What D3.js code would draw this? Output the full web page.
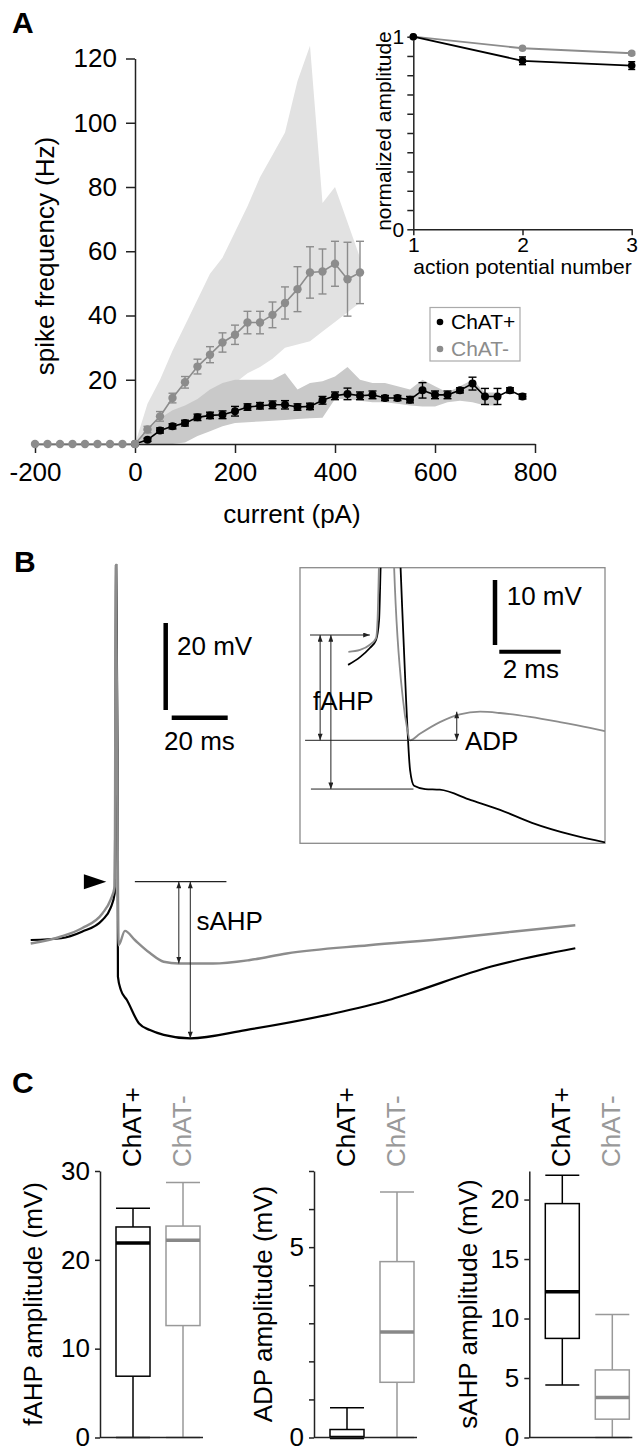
<!DOCTYPE html>
<html><head><meta charset="utf-8">
<script src="https://cdn.jsdelivr.net/npm/d3@7"></script>
<style>
body{margin:0;background:#fff;}
svg{display:block;font-family:"Liberation Sans",Arial,sans-serif;}
</style></head><body>
<svg id="fig" width="642" height="1452"></svg>
<script>
// ---------------- DATA ----------------
// Panel A: spike frequency vs injected current
const currentNeg = [-200,-175,-150,-125,-100,-75,-50,-25,0,25,50,75,100,125,150,175,200,225,250,275,300,325,350,375,400,425,450];
const freqNeg    = [0,0,0,0,0,0,0,0,0,4.5,8.6,14.3,19.2,24.1,27.8,31.6,34.0,37.8,37.8,40.2,43.9,48.2,53.4,53.7,56.1,51.3,53.4];
const semNeg     = [0,0,0,0,0,0,0,0,0,1,1.5,1.5,1.8,2.3,2.5,3,3,3.5,3.5,4,5,7,8,7,7,11.5,9.7];
const currentPos = [0,25,50,75,100,125,150,175,200,225,250,275,300,325,350,375,400,425,450,475,500,525,550,575,600,625,650,675,700,725,750,775];
const freqPos    = [0,1.3,4.2,5.5,6.5,8.3,8.9,9.1,10.2,11.5,11.9,12.2,12.2,11.5,11.7,13.6,15.0,15.6,15.0,15.3,14.3,14.3,13.8,16.7,15.3,15.3,16.7,18.8,14.8,14.8,16.7,14.8];
const semPos     = [0,0.5,0.8,0.8,0.9,1,1,1.2,1.5,1,1,1.2,1.3,1,1,1.2,1.2,1.8,1.2,1.2,0.8,0.8,1,2.4,1.2,1.2,0.8,2,2.5,2.5,0.8,0.8];
// ranges (shaded)
const rangeNegCurrent = [0,25,50,75,100,125,150,175,200,225,250,275,300,325,350,375,400,425,450];
const rangeNegLo      = [0,1.5,3,5.5,8,11,13.5,16,19,22,24,26.5,30,31,32,35,38,41,44];
const rangeNegHi      = [0,12.5,20,29,37,45,53,58,66,74,83,90,97,113,124,75,80,69,58];
const rangePosCurrent = [0,25,50,75,100,125,150,175,200,225,250,275,300,325,350,375,400,425,450,475,500,525,550,575,600,625,650,675,700,725];
const rangePosLo      = [0,0,0,0,0.5,2.5,4,5.5,6.5,6.8,7,7.2,7.5,7.8,8,8.2,14,14,13.5,13,13,12.5,12,11.7,11.7,13,13.5,13,12,12];
const rangePosHi      = [0,4,8,10.5,12,14,17,19,20,20,20,20,22,17,19,19.5,21,24,20,19,19,18,17,20,18,16,18,20,16,16];
const xTicksA = [-200,0,200,400,600,800];
const yTicksA = [20,40,60,80,100,120];

// Panel A inset: normalized amplitude
const apNumber  = [1,2,3];
const ampPos    = [1,0.875,0.85];
const ampPosErr = [0,0.02,0.02];
const ampNeg    = [1,0.94,0.914];
const ampNegErr = [0,0.006,0.008];
const ampTicks  = [0,0.1,0.2,0.3,0.4,0.5,0.6,0.7,0.8,0.9,1];
const ampLabels = [0,1];

// Panel B: voltage traces (time ms, membrane potential mV)
const tGrayMain  = [-30.4,-19.5,-12.1,-4.8,-1.9,-0.4,0,0.4,1.0,3.25,6.8,12.2,17.1,22.5,34.7,47.9,61.0,90.3,119.5,141.5,164.1];
const vGrayMain  = [-59.2,-57.6,-55.7,-52.3,-49.2,-46.1,27.8,-3.2,-59.6,-56.3,-58.4,-61.4,-63.4,-63.8,-63.8,-63.0,-61.5,-59.6,-58.0,-56.5,-55.0];
const tBlackMain = [-30.4,-19.5,-12.1,-4.8,-1.9,-0.4,0.15,0.6,0.75,1.8,3.96,8.3,12.2,17.1,26.6,46.4,75.6,97.5,104.9,134.1,164.1];
const vBlackMain = [-58.4,-58.0,-56.5,-53.8,-51.1,-47.7,27.8,-14.7,-66.8,-69.9,-72.2,-77.6,-79.1,-80.2,-81.0,-79.1,-75.6,-72.2,-70.7,-64.5,-60.3];
const threshold  = -45;
const sahpGray   = -63.8;
const sahpBlack  = -81.0;
// inset (expanded time)
const tGrayInset  = [-1.03,-0.65,-0.33,-0.13,-0.08,-0.03,0.2,0.46,0.75,0.88,0.98,1.3,1.95,2.6,3.26,3.91,4.89,5.86,6.84,7.33];
const vGrayInset  = [-47.6,-47.3,-46.5,-45.5,-42.7,-33.5,15,-34.6,-55,-59.3,-61.2,-60.2,-58.4,-57.2,-56.8,-57.0,-57.6,-58.4,-59.3,-59.8];
const tBlackInset = [-1.04,-0.65,-0.33,-0.13,-0.03,0.02,0.26,0.67,0.85,0.98,1.11,1.47,1.95,2.96,3.91,4.95,6.29,7.33];
const vBlackInset = [-49.6,-48.4,-47.0,-45.8,-42.7,-34.6,15,-34.6,-55,-65.8,-68.2,-68.7,-68.8,-70.4,-71.9,-73.9,-75.8,-76.9];
const fahpGray  = -61.2;
const fahpBlack = -68.7;
const adpPeak   = -56.8;

// Panel C: box plot statistics [ChAT+, ChAT-]
const boxGroups = ["ChAT+","ChAT-"];
const fahpLow=[0,0],     fahpQ1=[6.9,12.6], fahpMed=[21.9,22.2], fahpQ3=[23.7,23.8], fahpHigh=[25.8,28.7];
const adpLow=[0,0],      adpQ1=[0,1.45],    adpMed=[0,2.77],     adpQ3=[0.21,4.62],  adpHigh=[0.78,6.45];
const sahpLow=[4.42,0],  sahpQ1=[8.33,1.54],sahpMed=[12.25,3.36],sahpQ3=[19.66,5.68],sahpHigh=[22.04,10.34];
const fahpTicks=[0,10,20,30];
const adpTicks=[0,1,2,3,4,5,6,7], adpLabels=[0,5];
const sahpTicks=[0,5,10,15,20];

// ---------------- DRAW ----------------
const svg = d3.select("#fig");
const F = 26;
const GRAY = "#8c8c8c";
const AX = "#222";
const plain = d => String(d);

const defs = svg.append("defs");
defs.append("marker").attr("id","arr").attr("viewBox","0 0 8 6").attr("refX",8).attr("refY",3)
  .attr("markerWidth",7).attr("markerHeight",5).attr("markerUnits","userSpaceOnUse").attr("orient","auto-start-reverse")
  .append("path").attr("d","M0,0L8,3L0,6z").attr("fill","#222");

function styleAxis(g, fs){
  g.attr("font-family",null).attr("font-size",fs);
  g.selectAll(".domain,.tick line").attr("stroke",AX).attr("stroke-width",1.5);
  g.selectAll("text").attr("fill","#000");
}
function label(t,x,y,opts={}){
  const e = svg.append("text").attr("x",x).attr("y",y).text(t)
    .attr("font-size",opts.size||F).attr("fill",opts.fill||"#000")
    .attr("text-anchor",opts.anchor||"start");
  if(opts.bold) e.attr("font-weight","bold");
  if(opts.rot) e.attr("transform",`rotate(-90,${x},${y})`);
  return e;
}

// ===== Panel A =====
label("A",12,33,{bold:true,size:30});
const xA = d3.scaleLinear().domain([-200,800]).range([35,535]);
const yA = d3.scaleLinear().domain([0,120]).range([444,58.5]);

const area = (lo,hi,cur)=>d3.area().x((d,i)=>xA(cur[i])).y0((d,i)=>yA(lo[i])).y1((d,i)=>yA(hi[i]));
svg.append("path").datum(rangeNegCurrent).attr("d",area(rangeNegLo,rangeNegHi,rangeNegCurrent)).attr("fill","#e2e2e2");
svg.append("path").datum(rangePosCurrent).attr("d",area(rangePosLo,rangePosHi,rangePosCurrent)).attr("fill","#c9c9c9");

const gx = svg.append("g").attr("transform",`translate(0,${yA(0)})`)
  .call(d3.axisBottom(xA).tickValues(xTicksA).tickSize(9).tickSizeOuter(0).tickPadding(10).tickFormat(plain));
styleAxis(gx,F);
const gy = svg.append("g").attr("transform",`translate(${xA(0)},0)`)
  .call(d3.axisLeft(yA).tickValues(yTicksA).tickSize(9).tickSizeOuter(0).tickPadding(9).tickFormat(plain));
styleAxis(gy,F);
label("current (pA)",292,523,{anchor:"middle"});
label("spike frequency (Hz)",54,256,{anchor:"middle",rot:true});

function series(cur,val,err,color,r){
  const g = svg.append("g");
  g.append("path").datum(cur).attr("fill","none").attr("stroke",color).attr("stroke-width",1.6)
    .attr("d",d3.line().x((d,i)=>xA(cur[i])).y((d,i)=>yA(val[i])));
  cur.forEach((c,i)=>{
    if(err[i]>0){
      const x=xA(c), y1=yA(val[i]-err[i]), y2=yA(val[i]+err[i]);
      g.append("line").attr("x1",x).attr("x2",x).attr("y1",y1).attr("y2",y2).attr("stroke",color).attr("stroke-width",1.4);
      [y1,y2].forEach(y=>g.append("line").attr("x1",x-4).attr("x2",x+4).attr("y1",y).attr("y2",y).attr("stroke",color).attr("stroke-width",1.4));
    }
  });
  g.selectAll("circle").data(cur).join("circle").attr("cx",d=>xA(d)).attr("cy",(d,i)=>yA(val[i])).attr("r",r).attr("fill",color);
}
series(currentPos,freqPos,semPos,"#000",4);
series(currentNeg,freqNeg,semNeg,GRAY,4.2);

// legend
svg.append("rect").attr("x",430).attr("y",307.5).attr("width",90).attr("height",53.5).attr("fill","none").attr("stroke","#aaa").attr("stroke-width",1.2);
svg.append("circle").attr("cx",440).attr("cy",322).attr("r",3.3).attr("fill","#000");
svg.append("circle").attr("cx",440).attr("cy",349).attr("r",3.3).attr("fill",GRAY);
label(boxGroups[0],451,329,{size:21});
label(boxGroups[1],451,355.5,{size:21,fill:GRAY});

// inset
const xI = d3.scaleLinear().domain([1,3]).range([413.3,631.7]);
const yI = d3.scaleLinear().domain([0,1]).range([229.3,36.7]);
const gix = svg.append("g").attr("transform",`translate(0,${yI(0)})`)
  .call(d3.axisBottom(xI).tickValues(apNumber).tickSize(6).tickSizeOuter(0).tickPadding(2).tickFormat(plain));
styleAxis(gix,21);
const giy = svg.append("g").attr("transform",`translate(${xI(1)},0)`)
  .call(d3.axisLeft(yI).tickValues(ampTicks).tickSize(6).tickSizeOuter(0).tickPadding(3)
    .tickFormat(d=>ampLabels.some(v=>Math.abs(v-d)<1e-9)?String(Math.round(d)):""));
styleAxis(giy,21);
label("action potential number",522.5,274,{anchor:"middle",size:21});
label("normalized amplitude",390.5,131,{anchor:"middle",size:21,rot:true});
function iseries(val,err,color){
  const g=svg.append("g");
  g.append("path").datum(apNumber).attr("fill","none").attr("stroke",color).attr("stroke-width",1.8)
    .attr("d",d3.line().x(d=>xI(d)).y((d,i)=>yI(val[i])));
  apNumber.forEach((a,i)=>{
    if(err[i]>0){
      const x=xI(a), y1=yI(val[i]-err[i]), y2=yI(val[i]+err[i]);
      g.append("line").attr("x1",x).attr("x2",x).attr("y1",y1).attr("y2",y2).attr("stroke",color).attr("stroke-width",1.5);
      [y1,y2].forEach(y=>g.append("line").attr("x1",x-3.5).attr("x2",x+3.5).attr("y1",y).attr("y2",y).attr("stroke",color).attr("stroke-width",1.5));
    }
  });
  g.selectAll("circle").data(apNumber).join("circle").attr("cx",d=>xI(d)).attr("cy",(d,i)=>yI(val[i])).attr("r",3.8).attr("fill",color);
}
iseries(ampNeg,ampNegErr,GRAY);
iseries(ampPos,ampPosErr,"#000");

// ===== Panel B =====
label("B",14,572,{bold:true,size:30});
const xB = d3.scaleLinear().domain([-30.4,164.1]).range([30.7,575.3]);
const yB = d3.scaleLinear().domain([-45,27.8]).range([881.7,565]);
const lineB = d3.line().x(d=>xB(d[0])).y(d=>yB(d[1])).curve(d3.curveMonotoneX);
svg.append("path").datum(d3.zip(tBlackMain,vBlackMain)).attr("d",lineB).attr("fill","none").attr("stroke","#000").attr("stroke-width",2.2);
svg.append("path").datum(d3.zip(tGrayMain,vGrayMain)).attr("d",lineB).attr("fill","none").attr("stroke",GRAY).attr("stroke-width",2.4);

// threshold arrowhead
const ty = yB(threshold);
svg.append("path").attr("d",`M${xB(-11.4)},${ty-7.5}L${xB(-3.4)},${ty}L${xB(-11.4)},${ty+7.5}Z`).attr("fill","#000");
// sAHP annotation
svg.append("line").attr("x1",xB(6.8)).attr("x2",xB(39.5)).attr("y1",ty).attr("y2",ty).attr("stroke","#222").attr("stroke-width",1.2);
[[22.5,sahpGray],[26.6,sahpBlack]].forEach(([t,v])=>{
  svg.append("line").attr("x1",xB(t)).attr("x2",xB(t)).attr("y1",ty).attr("y2",yB(v))
    .attr("stroke","#222").attr("stroke-width",1).attr("marker-start","url(#arr)").attr("marker-end","url(#arr)");
});
label("sAHP",196.5,930);

// scale bars main
const sbx = 165.7, sby = 710;
svg.append("line").attr("x1",sbx).attr("x2",sbx).attr("y1",sby).attr("y2",sby-(yB(-45)-yB(-25))).attr("stroke","#000").attr("stroke-width",4.5);
svg.append("line").attr("x1",171.7).attr("x2",171.7+(xB(20)-xB(0))).attr("y1",717.7).attr("y2",717.7).attr("stroke","#000").attr("stroke-width",4.5);
label("20 mV",177,655);
label("20 ms",164,750);

// inset
const bx0=300,bx1=605,by0=567.7,by1=843.3;
defs.append("clipPath").attr("id","clipI").append("rect").attr("x",bx0).attr("y",by0).attr("width",bx1-bx0).attr("height",by1-by0);
svg.append("rect").attr("x",bx0).attr("y",by0).attr("width",bx1-bx0).attr("height",by1-by0).attr("fill","none").attr("stroke","#8a8a8a").attr("stroke-width",1.3);
const xBi = d3.scaleLinear().domain([0,1]).range([380,410.7]);
const yBi = d3.scaleLinear().domain([-45,-35]).range([635,570]);
const lineI = d3.line().x(d=>xBi(d[0])).y(d=>yBi(d[1])).curve(d3.curveMonotoneX);
const gi = svg.append("g").attr("clip-path","url(#clipI)");
gi.append("path").datum(d3.zip(tBlackInset,vBlackInset)).attr("d",lineI).attr("fill","none").attr("stroke","#000").attr("stroke-width",1.8);
gi.append("path").datum(d3.zip(tGrayInset,vGrayInset)).attr("d",lineI).attr("fill","none").attr("stroke",GRAY).attr("stroke-width",1.8);
const tyi = yBi(threshold);
svg.append("line").attr("x1",xBi(-2.28)).attr("x2",xBi(-0.33)).attr("y1",tyi).attr("y2",tyi)
  .attr("stroke","#222").attr("stroke-width",1).attr("marker-end","url(#arr)");
[[-1.95,fahpGray],[-1.6,fahpBlack]].forEach(([t,v])=>{
  svg.append("line").attr("x1",xBi(t)).attr("x2",xBi(t)).attr("y1",tyi).attr("y2",yBi(v))
    .attr("stroke","#222").attr("stroke-width",1).attr("marker-start","url(#arr)").attr("marker-end","url(#arr)");
});
svg.append("line").attr("x1",xBi(-2.44)).attr("x2",xBi(2.5)).attr("y1",yBi(fahpGray)).attr("y2",yBi(fahpGray)).attr("stroke","#222").attr("stroke-width",1);
svg.append("line").attr("x1",xBi(-2.25)).attr("x2",xBi(1.09)).attr("y1",yBi(fahpBlack)).attr("y2",yBi(fahpBlack)).attr("stroke","#222").attr("stroke-width",1);
svg.append("line").attr("x1",xBi(2.5)).attr("x2",xBi(2.5)).attr("y1",yBi(adpPeak)).attr("y2",yBi(fahpGray))
  .attr("stroke","#222").attr("stroke-width",1).attr("marker-start","url(#arr)").attr("marker-end","url(#arr)");
label("fAHP",313,710);
label("ADP",465,750);
svg.append("line").attr("x1",495).attr("x2",495).attr("y1",645).attr("y2",645-(yBi(-45)-yBi(-35))).attr("stroke","#000").attr("stroke-width",4.5);
svg.append("line").attr("x1",499.3).attr("x2",499.3+(xBi(2)-xBi(0))).attr("y1",651.7).attr("y2",651.7).attr("stroke","#000").attr("stroke-width",4);
label("10 mV",506.7,605);
label("2 ms",502.7,678.3);

// ===== Panel C =====
label("C",12,1093,{bold:true,size:30});
function boxPanel(ax, domainMax, ticks, tickLabels, lo,q1,med,q3,hi, title, titleX){
  const y = d3.scaleLinear().domain([0,domainMax]).range([1437.5,1171]);
  const x = d3.scalePoint().domain(boxGroups).range([ax+33,ax+83]);
  const w = 34;
  const cols = ["#000","#999"], medCols=["#000","#888"];
  boxGroups.forEach((gname,i)=>{
    const cx = x(gname);
    const g = svg.append("g");
    g.append("line").attr("x1",cx).attr("x2",cx).attr("y1",y(lo[i])).attr("y2",y(q1[i])).attr("stroke",cols[i]).attr("stroke-width",1.5);
    g.append("line").attr("x1",cx).attr("x2",cx).attr("y1",y(q3[i])).attr("y2",y(hi[i])).attr("stroke",cols[i]).attr("stroke-width",1.5);
    [lo[i],hi[i]].forEach(v=>g.append("line").attr("x1",cx-w/2).attr("x2",cx+w/2).attr("y1",y(v)).attr("y2",y(v)).attr("stroke",cols[i]).attr("stroke-width",1.5));
    g.append("rect").attr("x",cx-w/2).attr("y",y(q3[i])).attr("width",w).attr("height",Math.max(0,y(q1[i])-y(q3[i])))
      .attr("fill","#fff").attr("stroke",cols[i]).attr("stroke-width",1.5);
    g.append("line").attr("x1",cx-w/2).attr("x2",cx+w/2).attr("y1",y(med[i])).attr("y2",y(med[i])).attr("stroke",medCols[i]).attr("stroke-width",3.5);
    label(gname,cx+8,1167,{rot:true,fill:i?"#999":"#000"});
  });
  const ga = svg.append("g").attr("transform",`translate(${ax},0)`)
    .call(d3.axisLeft(y).tickValues(ticks).tickSize(5).tickSizeOuter(0).tickPadding(5)
      .tickFormat(d=>tickLabels.includes(d)?String(d):""));
  styleAxis(ga,F);
  svg.append("line").attr("x1",ax).attr("x2",ax+103).attr("y1",y(0)).attr("y2",y(0)).attr("stroke",AX).attr("stroke-width",1.5);
  label(title,titleX,1304,{anchor:"middle",rot:true});
}
boxPanel(100,30,fahpTicks,fahpTicks,fahpLow,fahpQ1,fahpMed,fahpQ3,fahpHigh,"fAHP amplitude (mV)",41.5);
boxPanel(314,7,adpTicks,adpLabels,adpLow,adpQ1,adpMed,adpQ3,adpHigh,"ADP amplitude (mV)",271.5);
boxPanel(529.3,22.4,sahpTicks,sahpTicks,sahpLow,sahpQ1,sahpMed,sahpQ3,sahpHigh,"sAHP amplitude (mV)",476.5);
</script>
</body></html>
